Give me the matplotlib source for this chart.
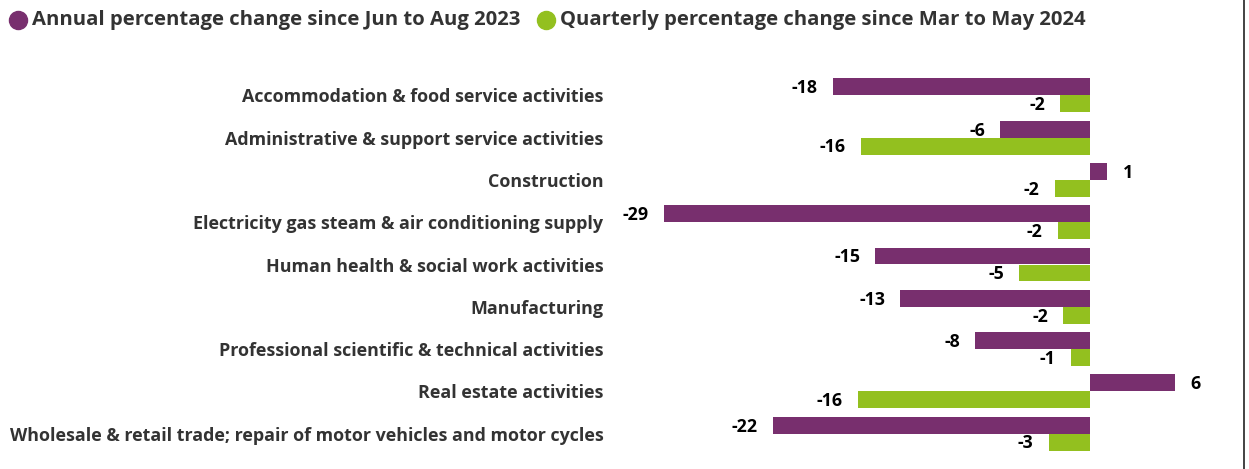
import matplotlib
matplotlib.use("Agg")
import matplotlib.pyplot as plt
from matplotlib.lines import Line2D
import numpy as np

categories = [
    "Accommodation & food service activities",
    "Administrative & support service activities",
    "Construction",
    "Electricity gas steam & air conditioning supply",
    "Human health & social work activities",
    "Manufacturing",
    "Professional scientific & technical activities",
    "Real estate activities",
    "Wholesale & retail trade; repair of motor vehicles and motor cycles",
]
annual = [-17.5, -6.1, 1.2, -29.0, -14.6, -12.9, -7.8, 5.8, -21.6]
quarterly = [-2.0, -15.6, -2.4, -2.2, -4.8, -1.8, -1.3, -15.8, -2.8]
series_names = ["Annual percentage change since Jun to Aug 2023",
                "Quarterly percentage change since Mar to May 2024"]

PURPLE = "#782F6E"
GREEN = "#93C01F"
TXT = "#333333"
FONT = "Open Sans"

W, H = 1249, 469
fig = plt.figure(figsize=(W / 100, H / 100), dpi=100)
ax_l, ax_r, ax_t, ax_b = 620, 1244, 70, 459
ax = fig.add_axes([ax_l / W, 1 - ax_b / H, (ax_r - ax_l) / W, (ax_b - ax_t) / H])

y = np.arange(len(categories))
bh = 0.4
ax.barh(y - bh / 2, annual, height=bh, color=PURPLE)
ax.barh(y + bh / 2, quarterly, height=bh, color=GREEN)

def label(vals, offs):
    for yi, v in zip(y + offs, vals):
        dx = 11 if v >= 0 else -11
        ax.annotate(f"{round(v):d}", (v, yi), xytext=(dx, -1), textcoords="offset points",
                    ha="left" if v >= 0 else "right", va="center",
                    fontsize=12.8, fontweight="bold", color="black", family=FONT)

label(annual, -bh / 2)
label(quarterly, bh / 2)

ax.set_xlim(-32.0, 10.5)
ax.set_ylim(len(categories) - 1 + 0.6, -0.6)
ax.set_yticks(y)
ax.set_yticklabels(categories, fontsize=12.85, fontweight="bold", color=TXT, family=FONT)
ax.tick_params(axis="y", length=0, pad=12)
ax.set_xticks([])
for s in ax.spines.values():
    s.set_visible(False)

# legend
for cx, col, tx, name in [(18, PURPLE, 32, series_names[0]), (546, GREEN, 560, series_names[1])]:
    fig.add_artist(Line2D([cx / W], [1 - 20 / H], marker="o", markersize=13,
                          color=col, linestyle="none", transform=fig.transFigure))
    fig.text(tx / W, 1 - 20 / H, name, fontsize=14.6, fontweight="bold", color=TXT,
             family=FONT, ha="left", va="center")

fig.add_artist(Line2D([1244 / W, 1244 / W], [0, 1], color="#222222", linewidth=1.2,
                      transform=fig.transFigure))

fig.savefig("out.png", dpi=100)
